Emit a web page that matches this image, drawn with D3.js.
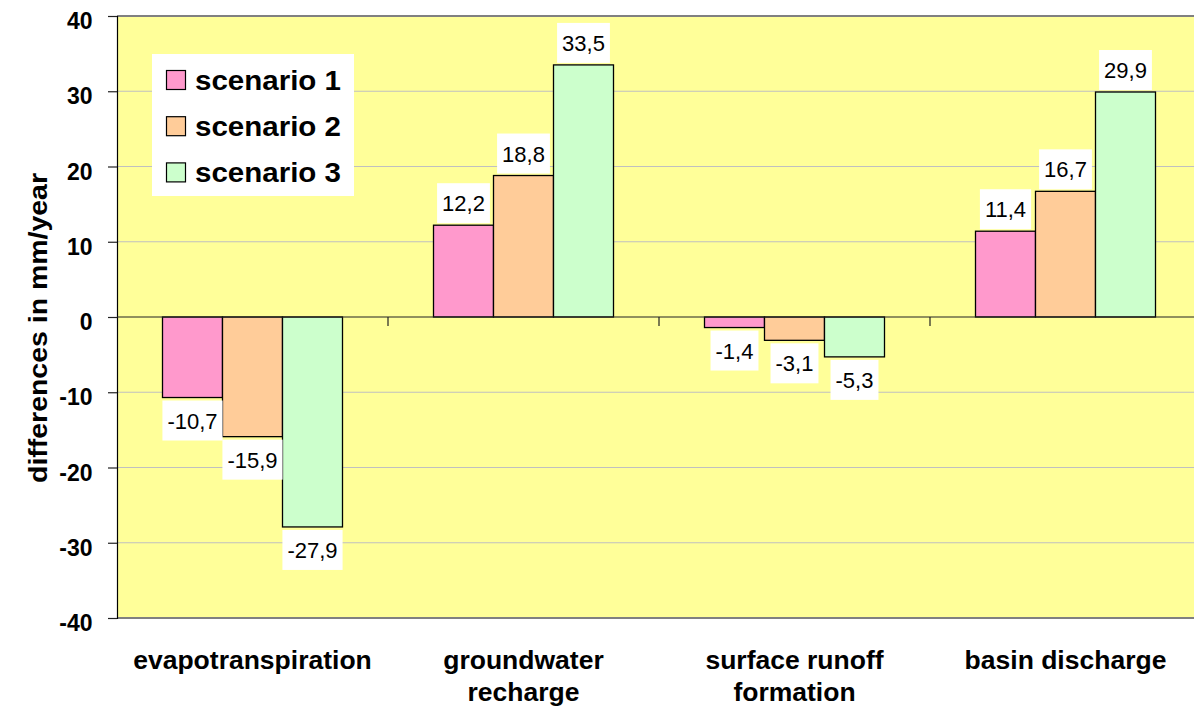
<!DOCTYPE html>
<html>
<head>
<meta charset="utf-8">
<script src="https://cdn.jsdelivr.net/npm/d3@7"></script>
<style>
  html, body { margin: 0; padding: 0; background: #ffffff; }
  svg { display: block; }
  text { font-family: "Liberation Sans", Arial, sans-serif; }
</style>
</head>
<body>
<svg id="chart" width="1194" height="706"></svg>
<script>
// Water balance changes per scenario (mm/year)
const categories = ["evapotranspiration", "groundwater recharge", "surface runoff formation", "basin discharge"];
const categoryLines = [["evapotranspiration"], ["groundwater", "recharge"], ["surface runoff", "formation"], ["basin discharge"]];
const seriesNames = ["scenario 1", "scenario 2", "scenario 3"];
const scenario1 = [-10.7, 12.2, -1.4, 11.4];
const scenario2 = [-15.9, 18.8, -3.1, 16.7];
const scenario3 = [-27.9, 33.5, -5.3, 29.9];
const yTicks = [-40, -30, -20, -10, 0, 10, 20, 30, 40];
const axisTitle = "differences in mm/year";

const seriesValues = [scenario1, scenario2, scenario3];
const colors = ["#FF99CC", "#FFCC99", "#CCFFCC"];

const svg = d3.select("#chart");
const plot = { left: 117, right: 1201, top: 16, bottom: 618 };

const y = d3.scaleLinear().domain([-40, 40]).range([plot.bottom, plot.top]);
const x0 = d3.scaleBand().domain(categories)
  .range([plot.left, plot.right])
  .paddingInner(0.3358).paddingOuter(0.1679);
const x1 = d3.scaleBand().domain(seriesNames).range([0, x0.bandwidth()]);
const color = d3.scaleOrdinal().domain(seriesNames).range(colors);

const fmt = v => (v < 0 ? "-" : "") + Math.abs(v).toFixed(1).replace(".", ",");

// plot background
svg.append("rect")
  .attr("x", plot.left).attr("y", plot.top)
  .attr("width", plot.right - plot.left).attr("height", plot.bottom - plot.top)
  .attr("fill", "#FFFF99");

// horizontal grid lines
svg.append("g").selectAll("line")
  .data(yTicks.filter(t => t !== 0 && Math.abs(t) !== 40))
  .join("line")
  .attr("x1", plot.left).attr("x2", plot.right)
  .attr("y1", d => y(d)).attr("y2", d => y(d))
  .attr("stroke", "#C0C0C0").attr("stroke-width", 1.2);

// top and bottom frame
[40, -40].forEach(t => {
  svg.append("line")
    .attr("x1", plot.left).attr("x2", plot.right)
    .attr("y1", y(t)).attr("y2", y(t))
    .attr("stroke", "#808080").attr("stroke-width", 2);
});

// value axis
const yAxis = d3.axisLeft(y).tickValues(yTicks).tickSize(9).tickFormat(d => String(d));
const yg = svg.append("g").attr("transform", `translate(${plot.left},0)`).call(yAxis);
yg.select(".domain").attr("stroke", "#000").attr("stroke-width", 1.2);
yg.selectAll(".tick line").attr("stroke", "#222").attr("stroke-width", 1.2);
yg.selectAll(".tick text")
  .attr("x", -24.5).attr("dy", "0.72em").attr("y", -4)
  .attr("font-family", '"Liberation Sans", Arial, sans-serif')
  .attr("font-size", 23).attr("font-weight", "bold").attr("fill", "#000");

// bars
const groups = svg.append("g").selectAll("g")
  .data(categories)
  .join("g")
  .attr("transform", d => `translate(${x0(d)},0)`);

groups.selectAll("rect")
  .data((c, i) => seriesNames.map((s, k) => ({ s, v: seriesValues[k][i] })))
  .join("rect")
  .attr("x", d => x1(d.s))
  .attr("width", x1.bandwidth())
  .attr("y", d => y(Math.max(0, d.v)))
  .attr("height", d => Math.abs(y(d.v) - y(0)))
  .attr("fill", d => color(d.s))
  .attr("stroke", "#000").attr("stroke-width", 1.3);

// category axis along zero
svg.append("line")
  .attr("x1", plot.left).attr("x2", plot.right)
  .attr("y1", y(0)).attr("y2", y(0))
  .attr("stroke", "#222").attr("stroke-width", 1.2);
svg.append("g").selectAll("line")
  .data(categories.slice(1))
  .join("line")
  .attr("x1", d => x0(d) - (x0.step() - x0.bandwidth()) / 2)
  .attr("x2", d => x0(d) - (x0.step() - x0.bandwidth()) / 2)
  .attr("y1", y(0)).attr("y2", y(0) + 9)
  .attr("stroke", "#222").attr("stroke-width", 1.2);

// data labels in white boxes
const labelLayer = svg.append("g");
categories.forEach((c, i) => {
  seriesNames.forEach((s, k) => {
    const v = seriesValues[k][i];
    const cx = x0(c) + x1(s) + x1.bandwidth() / 2;
    const cy = v >= 0 ? y(v) - 22 : y(v) + 23;
    const g = labelLayer.append("g");
    const box = g.append("rect").attr("fill", "#fff");
    const t = g.append("text")
      .attr("x", cx).attr("y", cy + 8)
      .attr("text-anchor", "middle")
      .attr("font-size", 22).attr("fill", "#000")
      .text(fmt(v));
    const w = t.node().getComputedTextLength() + 10;
    box.attr("x", cx - w / 2).attr("y", cy - 20).attr("width", w).attr("height", 40);
  });
});

// category labels
const catG = svg.append("g");
categories.forEach((c, i) => {
  const t = catG.append("text")
    .attr("x", x0(c) + x0.bandwidth() / 2)
    .attr("y", 669)
    .attr("text-anchor", "middle")
    .attr("font-size", 26.5).attr("font-weight", "bold").attr("fill", "#000");
  categoryLines[i].forEach((line, j) => {
    t.append("tspan")
      .attr("x", x0(c) + x0.bandwidth() / 2)
      .attr("dy", j === 0 ? 0 : 32)
      .text(line);
  });
});

// axis title
svg.append("text")
  .attr("transform", `translate(47,${(plot.top + plot.bottom) / 2 + 11}) rotate(-90)`)
  .attr("text-anchor", "middle")
  .attr("font-size", 26).attr("font-weight", "bold").attr("fill", "#000")
  .attr("textLength", 310).attr("lengthAdjust", "spacingAndGlyphs")
  .text(axisTitle);

// legend
const legend = svg.append("g");
legend.append("rect")
  .attr("x", 152).attr("y", 54).attr("width", 202).attr("height", 142)
  .attr("fill", "#fff");
const rows = legend.selectAll("g")
  .data(seriesNames)
  .join("g")
  .attr("transform", (d, i) => `translate(0,${80 + i * 46.2})`);
rows.append("rect")
  .attr("x", 166.5).attr("y", -9.5).attr("width", 19).attr("height", 19)
  .attr("fill", d => color(d))
  .attr("stroke", "#000").attr("stroke-width", 1.2);
rows.append("text")
  .attr("x", 195).attr("y", 9.5)
  .attr("font-size", 27).attr("font-weight", "bold").attr("fill", "#000")
  .attr("textLength", 146).attr("lengthAdjust", "spacingAndGlyphs")
  .text(d => d);
</script>
</body>
</html>
